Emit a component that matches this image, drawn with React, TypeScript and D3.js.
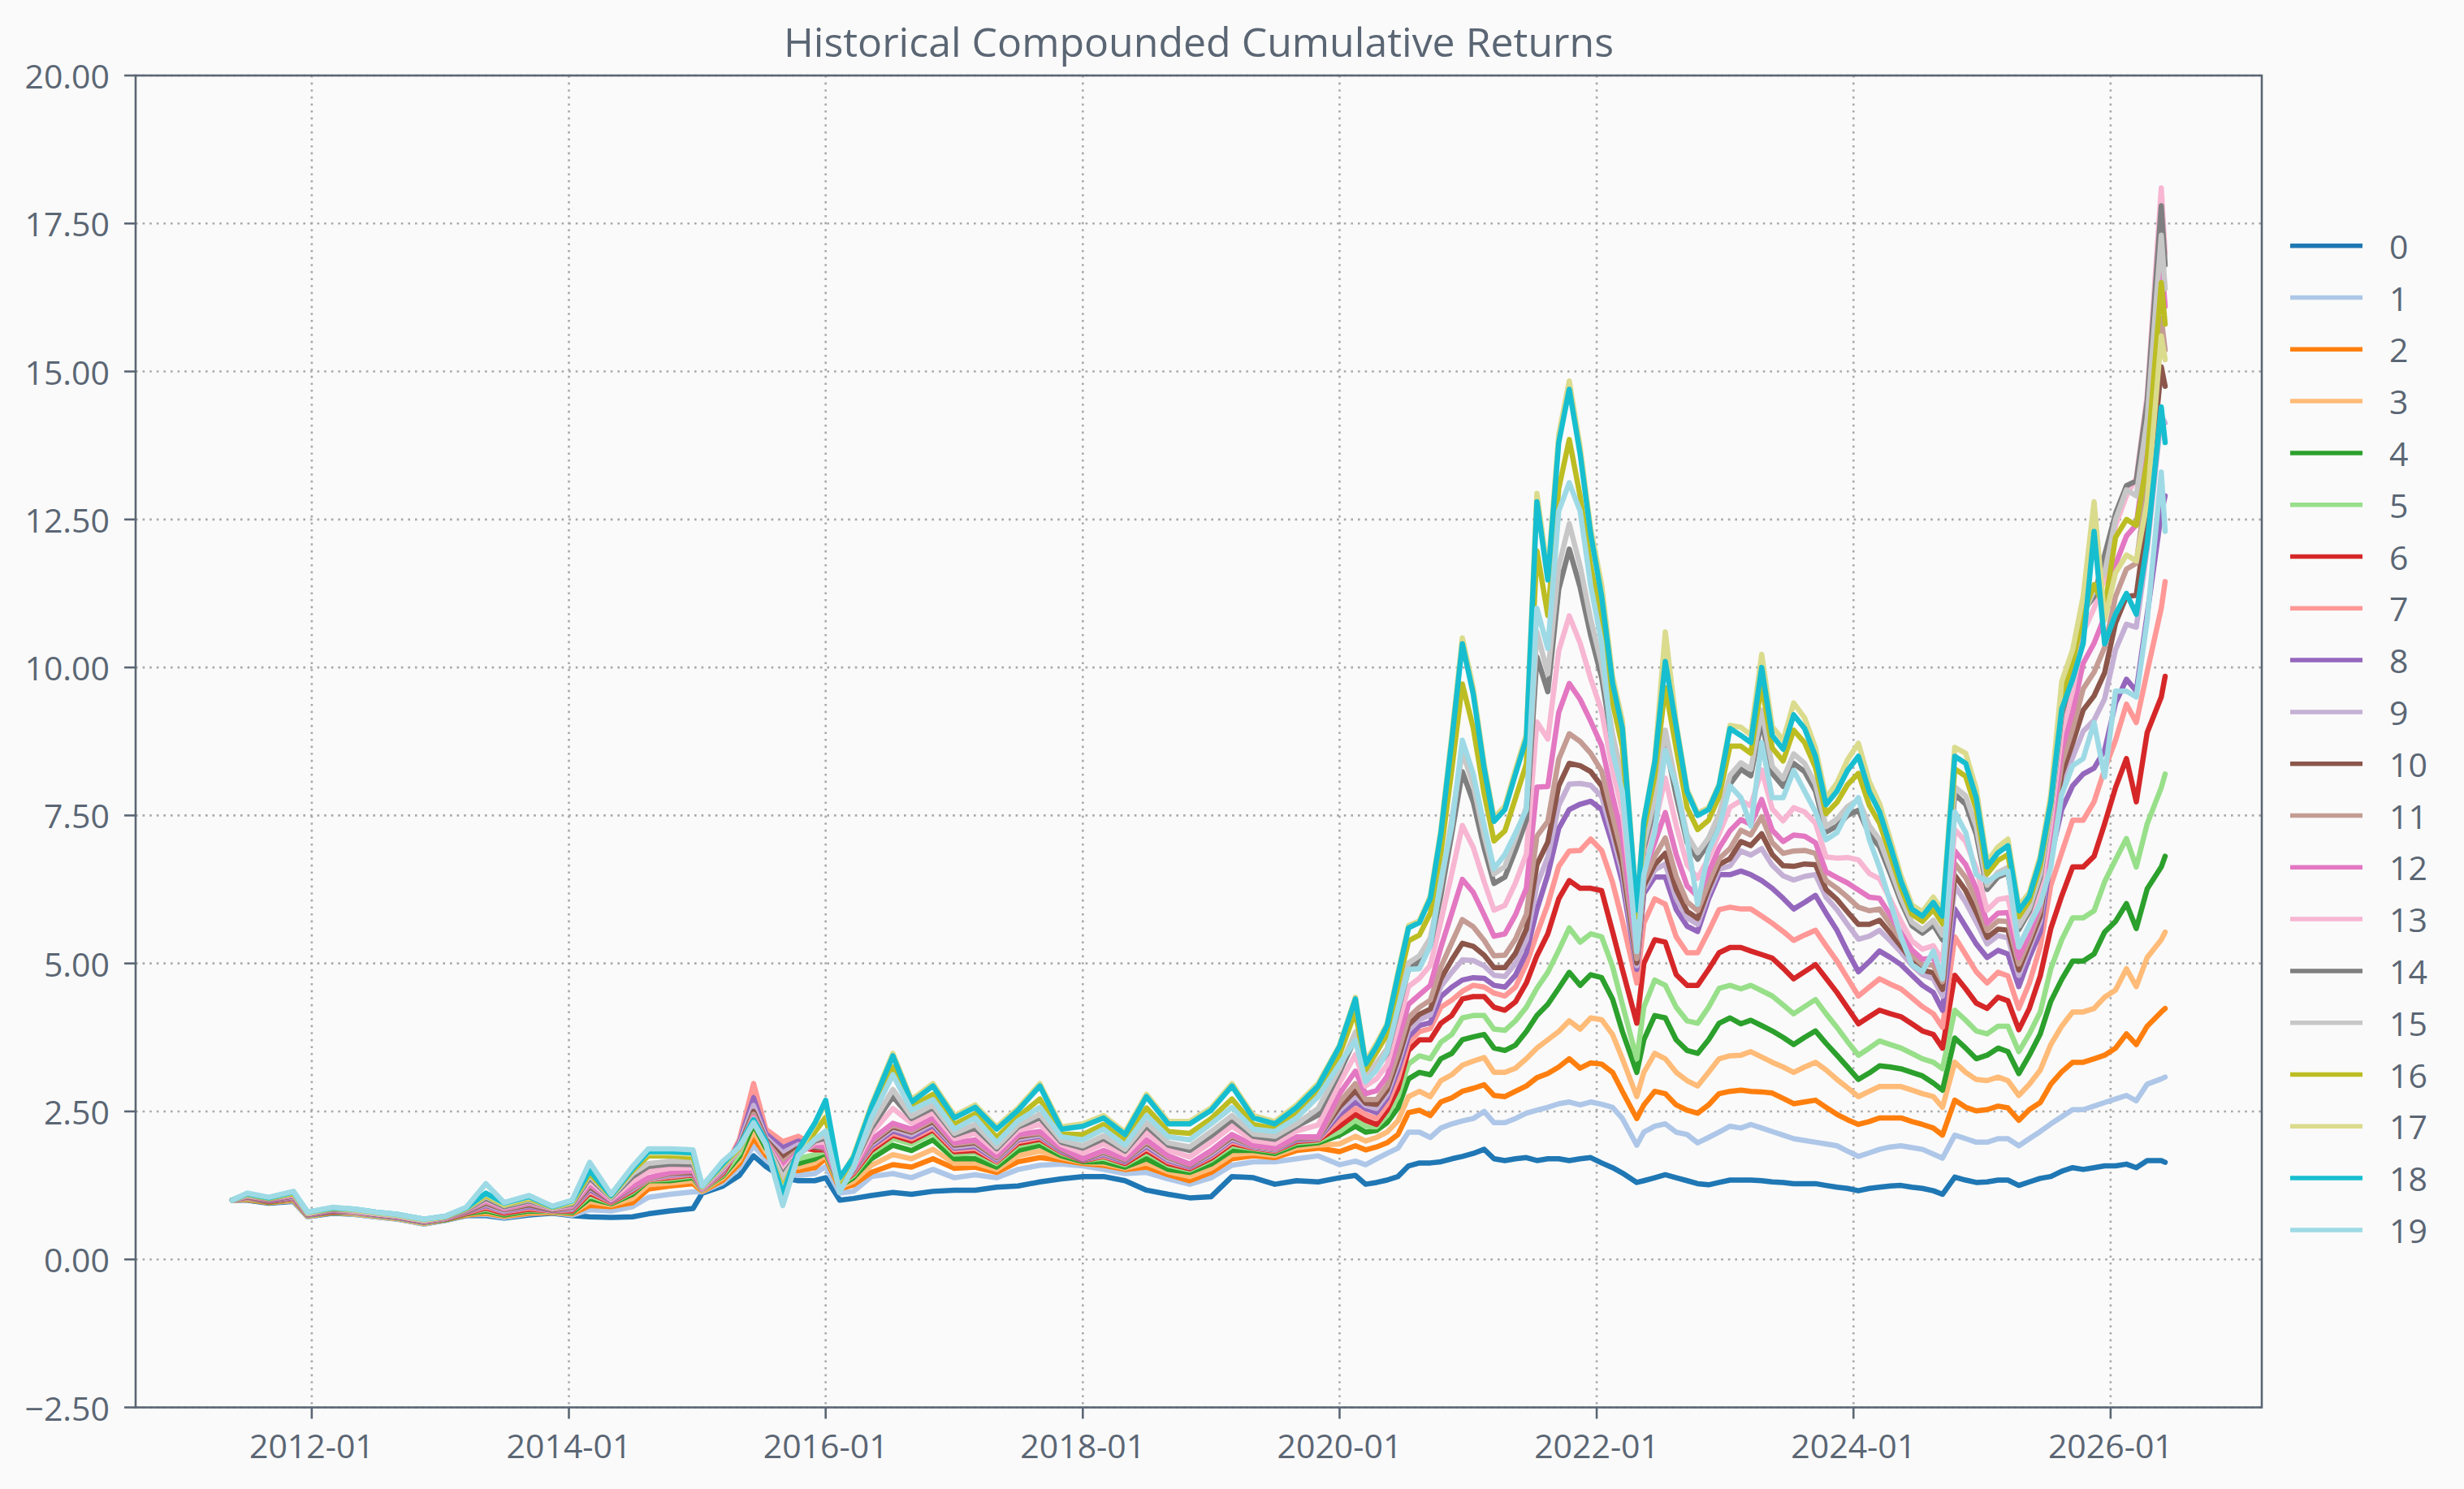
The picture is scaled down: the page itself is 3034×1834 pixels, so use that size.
import { useEffect } from "react";
import * as d3 from "d3";

// observation dates: bimonthly-ish before 2020, monthly after
const dates = [
  "2011-05-20", "2011-07-01", "2011-09-01", "2011-11-10", "2011-12-20", "2012-03-01", "2012-05-01", "2012-07-01", "2012-09-01", "2012-11-15",
  "2013-01-15", "2013-03-15", "2013-05-10", "2013-07-01", "2013-09-10", "2013-11-15", "2014-01-10",
  "2014-03-01", "2014-05-01", "2014-07-01", "2014-08-15", "2014-10-15", "2014-12-20", "2015-01-15", "2015-03-15", "2015-05-01",
  "2015-06-10", "2015-07-15", "2015-09-01", "2015-10-15", "2015-12-01", "2016-01-01", "2016-02-10", "2016-03-20",
  "2016-05-10", "2016-07-10", "2016-09-01", "2016-11-01", "2017-01-01", "2017-03-01", "2017-05-01", "2017-07-01", "2017-09-01", "2017-11-01",
  "2018-01-01", "2018-03-01", "2018-05-01", "2018-07-01", "2018-09-01", "2018-11-01", "2019-01-01", "2019-03-01", "2019-05-01", "2019-07-01",
  "2019-09-01", "2019-11-01",
  "2020-01-01", "2020-02-15", "2020-03-15", "2020-04-15", "2020-05-15", "2020-06-15", "2020-07-15", "2020-08-15", "2020-09-15", "2020-10-15", "2020-11-15", "2020-12-15",
  "2021-01-15", "2021-02-15", "2021-03-15", "2021-04-15", "2021-05-15", "2021-06-15", "2021-07-15", "2021-08-15", "2021-09-15", "2021-10-15", "2021-11-15", "2021-12-15",
  "2022-01-15", "2022-02-15", "2022-03-15", "2022-04-25", "2022-05-15", "2022-06-15", "2022-07-15", "2022-08-15", "2022-09-15", "2022-10-15", "2022-11-15", "2022-12-15",
  "2023-01-15", "2023-02-15", "2023-03-15", "2023-04-15", "2023-05-15", "2023-06-15", "2023-07-15", "2023-08-15", "2023-09-15", "2023-10-15", "2023-11-15", "2023-12-15",
  "2024-01-15", "2024-02-15", "2024-03-15", "2024-04-15", "2024-05-15", "2024-06-15", "2024-07-15", "2024-08-15", "2024-09-10", "2024-10-15", "2024-11-15", "2024-12-15",
  "2025-01-15", "2025-02-15", "2025-03-15", "2025-04-15", "2025-05-15", "2025-06-15", "2025-07-15", "2025-08-15", "2025-09-15", "2025-10-15", "2025-11-15", "2025-12-15",
  "2026-01-15", "2026-02-15", "2026-03-15", "2026-04-15", "2026-05-25", "2026-06-05",
];

const s0 = [
  1.0, 1.0, .95, .98, .72, .78, .76, .72, .68, .6, .66, .74, .74, .7, .75, .78, .74,
  .72, .71, .72, .77, .82, .86, 1.12, 1.24, 1.42, 1.75, 1.57, 1.38, 1.33, 1.33, 1.38, 1.0, 1.03,
  1.08, 1.13, 1.1, 1.15, 1.17, 1.17, 1.22, 1.24, 1.31, 1.36, 1.4, 1.4, 1.33, 1.17, 1.1, 1.04, 1.06, 1.4, 1.38, 1.27, 1.33, 1.31,
  1.38, 1.42, 1.27, 1.3, 1.34, 1.4, 1.58, 1.63, 1.63, 1.65, 1.7, 1.74,
  1.79, 1.86, 1.7, 1.67, 1.7, 1.72, 1.67, 1.7, 1.7, 1.67, 1.7, 1.72,
  1.63, 1.55, 1.46, 1.3, 1.33, 1.38, 1.43, 1.38, 1.33, 1.28, 1.26, 1.3,
  1.34, 1.34, 1.34, 1.33, 1.31, 1.3, 1.28, 1.28, 1.28, 1.25, 1.22, 1.2,
  1.16, 1.2, 1.22, 1.24, 1.25, 1.22, 1.2, 1.16, 1.1, 1.39, 1.34, 1.3,
  1.31, 1.34, 1.34, 1.25, 1.31, 1.37, 1.4, 1.49, 1.55, 1.52, 1.55, 1.58,
  1.58, 1.61, 1.55, 1.67, 1.67, 1.64,
];
const s1 = [
  1.0, 1.01, .96, .99, .72, .79, .76, .72, .68, .6, .66, .75, .76, .71, .77, .79, .75,
  .84, .82, .89, 1.05, 1.1, 1.14, 1.14, 1.3, 1.55, 1.92, 1.68, 1.46, 1.42, 1.45, 1.57, 1.12, 1.15,
  1.4, 1.45, 1.38, 1.52, 1.38, 1.43, 1.38, 1.52, 1.59, 1.61, 1.58, 1.52, 1.45, 1.47, 1.36, 1.27, 1.38, 1.59, 1.65, 1.65, 1.7, 1.75,
  1.6, 1.66, 1.6, 1.7, 1.79, 1.88, 2.15, 2.15, 2.06, 2.22, 2.29, 2.34,
  2.38, 2.5, 2.31, 2.31, 2.38, 2.47, 2.52, 2.57, 2.63, 2.66, 2.61, 2.66,
  2.62, 2.57, 2.38, 1.93, 2.15, 2.25, 2.29, 2.15, 2.11, 1.97, 2.06, 2.15,
  2.25, 2.22, 2.28, 2.22, 2.16, 2.1, 2.04, 2.01, 1.98, 1.95, 1.92, 1.83,
  1.74, 1.8, 1.86, 1.9, 1.92, 1.89, 1.86, 1.78, 1.71, 2.1, 2.04, 1.98,
  1.98, 2.04, 2.04, 1.92, 2.04, 2.16, 2.29, 2.41, 2.53, 2.53, 2.59, 2.65,
  2.71, 2.77, 2.68, 2.96, 3.05, 3.08,
];
const s2 = [
  1.0, 1.01, .96, 1.0, .73, .79, .77, .73, .69, .61, .67, .75, .78, .73, .78, .79, .77,
  .91, .89, .96, 1.19, 1.24, 1.28, 1.15, 1.34, 1.62, 2.05, 1.76, 1.52, 1.5, 1.55, 1.71, 1.19, 1.26,
  1.47, 1.6, 1.56, 1.7, 1.54, 1.56, 1.47, 1.65, 1.72, 1.68, 1.62, 1.59, 1.52, 1.56, 1.43, 1.33, 1.47, 1.7, 1.75, 1.72, 1.84, 1.88,
  1.82, 1.92, 1.85, 1.9, 1.97, 2.11, 2.48, 2.52, 2.43, 2.66, 2.73, 2.84,
  2.89, 2.95, 2.77, 2.75, 2.84, 2.93, 3.07, 3.14, 3.25, 3.39, 3.23, 3.32,
  3.3, 3.16, 2.84, 2.38, 2.61, 2.84, 2.8, 2.61, 2.52, 2.47, 2.61, 2.8,
  2.84, 2.86, 2.84, 2.83, 2.81, 2.72, 2.63, 2.66, 2.69, 2.57, 2.45, 2.36,
  2.28, 2.33, 2.39, 2.39, 2.39, 2.33, 2.28, 2.22, 2.1, 2.69, 2.57, 2.51,
  2.53, 2.59, 2.56, 2.35, 2.53, 2.65, 2.96, 3.17, 3.33, 3.33, 3.39, 3.45,
  3.57, 3.81, 3.63, 3.94, 4.18, 4.24,
];
const s3 = [
  1.0, 1.02, .97, 1.01, .73, .8, .77, .73, .69, .61, .67, .76, .8, .74, .8, .8, .78,
  .98, .92, 1.03, 1.26, 1.29, 1.33, 1.16, 1.38, 1.68, 2.17, 1.82, 1.57, 1.56, 1.63, 1.76, 1.22, 1.32,
  1.59, 1.77, 1.7, 1.86, 1.62, 1.63, 1.52, 1.75, 1.83, 1.72, 1.64, 1.62, 1.54, 1.63, 1.48, 1.4, 1.54, 1.77, 1.8, 1.76, 1.89, 1.93,
  1.95, 2.08, 2.0, 2.06, 2.15, 2.34, 2.75, 2.84, 2.75, 3.02, 3.12, 3.28,
  3.35, 3.41, 3.16, 3.16, 3.23, 3.39, 3.57, 3.71, 3.85, 4.03, 3.89, 4.08,
  4.05, 3.8, 3.39, 2.75, 3.16, 3.48, 3.39, 3.16, 3.02, 2.93, 3.16, 3.39,
  3.44, 3.45, 3.51, 3.42, 3.33, 3.25, 3.16, 3.25, 3.33, 3.2, 3.04, 2.9,
  2.75, 2.84, 2.92, 2.92, 2.92, 2.86, 2.8, 2.75, 2.57, 3.33, 3.16, 3.04,
  3.02, 3.08, 3.02, 2.77, 2.96, 3.2, 3.63, 3.94, 4.18, 4.18, 4.24, 4.43,
  4.55, 4.91, 4.61, 5.1, 5.4, 5.53,
];
const s4 = [
  1.0, 1.03, .97, 1.02, .74, .8, .78, .74, .7, .62, .67, .77, .82, .75, .82, .81, .79,
  1.03, .94, 1.1, 1.33, 1.33, 1.38, 1.17, 1.41, 1.74, 2.28, 1.88, 1.62, 1.62, 1.7, 1.8, 1.24, 1.38,
  1.7, 1.93, 1.84, 2.02, 1.7, 1.7, 1.56, 1.84, 1.93, 1.75, 1.65, 1.65, 1.56, 1.7, 1.52, 1.47, 1.61, 1.84, 1.84, 1.79, 1.93, 1.97,
  2.1, 2.25, 2.15, 2.18, 2.31, 2.56, 3.05, 3.16, 3.12, 3.39, 3.48, 3.71,
  3.76, 3.8, 3.57, 3.53, 3.62, 3.85, 4.12, 4.31, 4.58, 4.85, 4.63, 4.81,
  4.76, 4.4, 3.85, 3.16, 3.71, 4.12, 4.08, 3.71, 3.53, 3.48, 3.71, 3.99,
  4.08, 3.98, 4.04, 3.95, 3.86, 3.75, 3.63, 3.75, 3.86, 3.65, 3.45, 3.25,
  3.04, 3.15, 3.27, 3.25, 3.22, 3.16, 3.1, 2.98, 2.86, 3.74, 3.57, 3.39,
  3.45, 3.57, 3.51, 3.14, 3.45, 3.81, 4.36, 4.73, 5.04, 5.04, 5.16, 5.53,
  5.71, 6.01, 5.59, 6.26, 6.63, 6.81,
];
const s5 = [
  1.0, 1.03, .98, 1.02, .74, .81, .78, .74, .7, .62, .68, .78, .85, .77, .84, .81, .81,
  1.08, .95, 1.14, 1.34, 1.36, 1.41, 1.17, 1.43, 1.8, 2.4, 1.94, 1.68, 1.7, 1.77, 1.83, 1.25, 1.42,
  1.8, 2.04, 1.95, 2.13, 1.78, 1.8, 1.62, 1.92, 2.0, 1.79, 1.67, 1.71, 1.6, 1.8, 1.59, 1.51, 1.68, 1.92, 1.87, 1.82, 1.97, 2.0,
  2.16, 2.35, 2.25, 2.24, 2.43, 2.75, 3.3, 3.44, 3.39, 3.67, 3.8, 4.08,
  4.12, 4.12, 3.89, 3.87, 4.03, 4.26, 4.58, 4.85, 5.22, 5.6, 5.36, 5.5,
  5.45, 4.95, 4.31, 3.39, 4.26, 4.72, 4.63, 4.26, 4.03, 3.99, 4.26, 4.58,
  4.63, 4.57, 4.63, 4.54, 4.45, 4.3, 4.15, 4.27, 4.39, 4.15, 3.92, 3.68,
  3.45, 3.57, 3.69, 3.63, 3.57, 3.48, 3.39, 3.33, 3.22, 4.21, 4.04, 3.86,
  3.81, 3.94, 3.94, 3.51, 3.81, 4.18, 4.91, 5.4, 5.77, 5.77, 5.89, 6.38,
  6.75, 7.11, 6.63, 7.36, 7.97, 8.2,
];
const s6 = [
  1.0, 1.04, .98, 1.03, .75, .81, .79, .75, .71, .63, .68, .78, .87, .78, .85, .82, .82,
  1.12, .96, 1.16, 1.35, 1.38, 1.43, 1.18, 1.45, 1.92, 2.75, 2.08, 1.85, 1.9, 1.85, 1.85, 1.26, 1.45,
  1.84, 2.1, 2.0, 2.19, 1.82, 1.84, 1.65, 1.96, 2.03, 1.81, 1.67, 1.74, 1.62, 1.84, 1.62, 1.53, 1.71, 1.96, 1.88, 1.83, 1.99, 2.02,
  2.25, 2.45, 2.35, 2.28, 2.52, 2.89, 3.53, 3.71, 3.71, 3.99, 4.12, 4.4,
  4.44, 4.44, 4.26, 4.21, 4.35, 4.67, 5.13, 5.5, 6.09, 6.4, 6.27, 6.27,
  6.23, 5.54, 4.9, 3.99, 5.0, 5.4, 5.36, 4.81, 4.63, 4.63, 4.9, 5.18,
  5.27, 5.27, 5.21, 5.15, 5.09, 4.92, 4.74, 4.86, 4.98, 4.75, 4.51, 4.25,
  3.98, 4.1, 4.21, 4.15, 4.1, 3.98, 3.86, 3.8, 3.57, 4.8, 4.57, 4.33,
  4.24, 4.43, 4.37, 3.88, 4.24, 4.79, 5.59, 6.14, 6.63, 6.63, 6.81, 7.36,
  7.97, 8.46, 7.73, 8.9, 9.5, 9.85,
];
const s7 = [
  1.0, 1.04, .99, 1.04, .75, .82, .79, .75, .71, .63, .69, .79, .89, .8, .87, .82, .84,
  1.15, .97, 1.18, 1.35, 1.4, 1.44, 1.18, 1.47, 2.03, 2.97, 2.2, 1.99, 2.08, 1.92, 1.86, 1.27, 1.47,
  1.88, 2.13, 2.04, 2.22, 1.85, 1.88, 1.66, 1.99, 2.06, 1.82, 1.68, 1.75, 1.64, 1.88, 1.65, 1.55, 1.74, 1.99, 1.89, 1.84, 2.01, 2.03,
  2.35, 2.55, 2.45, 2.38, 2.62, 3.05, 3.66, 3.85, 3.9, 4.26, 4.38, 4.53,
  4.63, 4.6, 4.5, 4.45, 4.6, 4.99, 5.5, 6.0, 6.64, 6.9, 6.91, 7.1,
  6.91, 6.37, 5.72, 4.67, 5.68, 6.09, 6.0, 5.45, 5.18, 5.18, 5.54, 5.91,
  5.95, 5.92, 5.92, 5.8, 5.68, 5.54, 5.39, 5.48, 5.56, 5.3, 5.04, 4.75,
  4.45, 4.6, 4.74, 4.65, 4.57, 4.42, 4.27, 4.15, 3.92, 5.45, 5.15, 4.86,
  4.67, 4.85, 4.79, 4.24, 4.67, 5.28, 6.32, 6.87, 7.42, 7.42, 7.73, 8.28,
  8.77, 9.38, 9.07, 9.93, 11.0, 11.45,
];
const s8 = [
  1.0, 1.05, .99, 1.05, .75, .82, .8, .75, .71, .63, .69, .8, .91, .81, .89, .83, .85,
  1.18, .98, 1.19, 1.36, 1.42, 1.45, 1.19, 1.48, 1.98, 2.73, 2.12, 1.89, 2.0, 1.9, 1.87, 1.27, 1.49,
  1.91, 2.17, 2.07, 2.26, 1.88, 1.91, 1.68, 2.02, 2.08, 1.83, 1.68, 1.77, 1.65, 1.91, 1.67, 1.56, 1.76, 2.02, 1.9, 1.85, 2.02, 2.04,
  2.45, 2.66, 2.55, 2.48, 2.72, 3.2, 3.76, 3.95, 4.0, 4.44, 4.6, 4.72,
  4.76, 4.75, 4.63, 4.6, 4.8, 5.18, 5.91, 6.5, 7.28, 7.6, 7.69, 7.74,
  7.6, 7.01, 6.37, 4.9, 6.18, 6.46, 6.46, 5.91, 5.63, 5.54, 6.09, 6.5,
  6.5, 6.56, 6.5, 6.4, 6.27, 6.1, 5.92, 6.03, 6.15, 5.85, 5.56, 5.2,
  4.86, 5.03, 5.21, 5.1, 4.98, 4.8, 4.63, 4.51, 4.21, 5.92, 5.62, 5.33,
  5.1, 5.22, 5.16, 4.61, 5.1, 5.53, 6.8, 7.6, 8.0, 8.2, 8.3, 8.6,
  9.4, 9.8, 9.6, 10.9, 12.6, 12.9,
];
const s9 = [
  1.0, 1.06, 1.0, 1.06, .76, .83, .8, .76, .72, .64, .69, .81, .93, .82, .91, .84, .86,
  1.21, .99, 1.2, 1.36, 1.43, 1.46, 1.19, 1.49, 1.95, 2.6, 2.06, 1.8, 1.94, 1.9, 1.88, 1.27, 1.5,
  1.94, 2.21, 2.11, 2.3, 1.9, 1.94, 1.7, 2.04, 2.1, 1.85, 1.69, 1.79, 1.67, 1.94, 1.69, 1.58, 1.78, 2.04, 1.91, 1.86, 2.04, 2.05,
  2.52, 2.76, 2.6, 2.55, 2.79, 3.3, 3.87, 4.05, 4.13, 4.61, 4.85, 5.06,
  5.05, 4.96, 4.8, 4.78, 5.0, 5.4, 6.32, 6.8, 7.67, 8.03, 8.04, 8.01,
  7.82, 7.17, 6.53, 4.96, 6.25, 6.58, 6.68, 6.1, 5.77, 5.66, 6.18, 6.59,
  6.65, 6.9, 6.83, 6.94, 6.66, 6.48, 6.41, 6.47, 6.5, 6.12, 5.91, 5.66,
  5.41, 5.46, 5.56, 5.38, 5.19, 4.97, 4.81, 4.74, 4.45, 6.31, 6.03, 5.7,
  5.33, 5.47, 5.43, 4.8, 5.26, 5.71, 6.98, 7.99, 8.48, 8.92, 9.11, 9.47,
  10.3, 10.73, 10.68, 12.01, 14.25, 14.13,
];
const s10 = [
  1.0, 1.06, 1.0, 1.07, .76, .83, .81, .76, .72, .64, .7, .81, .95, .84, .92, .84, .88,
  1.23, .99, 1.22, 1.37, 1.45, 1.47, 1.2, 1.5, 1.9, 2.5, 2.02, 1.72, 1.88, 1.9, 1.88, 1.27, 1.51,
  1.97, 2.24, 2.15, 2.33, 1.93, 1.97, 1.72, 2.07, 2.13, 1.86, 1.69, 1.81, 1.68, 1.97, 1.72, 1.59, 1.81, 2.07, 1.92, 1.87, 2.05, 2.06,
  2.58, 2.85, 2.64, 2.62, 2.86, 3.38, 3.96, 4.14, 4.23, 4.74, 5.06, 5.34,
  5.29, 5.14, 4.93, 4.93, 5.17, 5.58, 6.67, 7.05, 8.0, 8.38, 8.34, 8.24,
  8.0, 7.31, 6.66, 5.01, 6.31, 6.67, 6.86, 6.25, 5.88, 5.76, 6.26, 6.67,
  6.77, 7.06, 6.99, 7.19, 6.84, 6.65, 6.64, 6.68, 6.67, 6.25, 6.08, 5.87,
  5.66, 5.66, 5.73, 5.51, 5.29, 5.05, 4.89, 4.84, 4.56, 6.49, 6.23, 5.87,
  5.44, 5.58, 5.56, 4.89, 5.33, 5.8, 7.07, 8.19, 8.72, 9.28, 9.52, 9.91,
  10.75, 11.2, 11.22, 12.57, 15.08, 14.75,
];
const s11 = [
  1.0, 1.07, 1.01, 1.08, .77, .84, .81, .77, .73, .65, .7, .82, .97, .85, .94, .85, .89,
  1.26, 1.0, 1.23, 1.37, 1.46, 1.49, 1.2, 1.51, 1.88, 2.45, 2.0, 1.64, 1.84, 1.92, 1.89, 1.27, 1.52,
  1.99, 2.27, 2.17, 2.36, 1.95, 1.99, 1.73, 2.09, 2.14, 1.87, 1.7, 1.82, 1.69, 1.99, 1.73, 1.6, 1.82, 2.09, 1.92, 1.87, 2.06, 2.06,
  2.66, 2.97, 2.7, 2.7, 2.94, 3.49, 4.09, 4.26, 4.38, 4.94, 5.35, 5.74,
  5.62, 5.39, 5.13, 5.14, 5.41, 5.83, 7.15, 7.4, 8.45, 8.88, 8.75, 8.55,
  8.25, 7.5, 6.84, 5.08, 6.4, 6.81, 7.12, 6.47, 6.04, 5.89, 6.36, 6.77,
  6.94, 7.25, 7.17, 7.48, 7.04, 6.86, 6.9, 6.91, 6.86, 6.4, 6.27, 6.12,
  5.95, 5.89, 5.92, 5.66, 5.4, 5.14, 4.98, 4.97, 4.69, 6.69, 6.45, 6.07,
  5.56, 5.72, 5.71, 4.99, 5.41, 5.9, 7.16, 8.38, 8.96, 9.64, 9.92, 10.34,
  11.2, 11.66, 11.76, 13.12, 15.9, 15.36,
];
const s12 = [
  1.0, 1.08, 1.01, 1.09, .77, .84, .82, .77, .73, .65, .7, .83, .99, .86, .96, .86, .9,
  1.28, 1.0, 1.24, 1.38, 1.47, 1.5, 1.2, 1.52, 1.86, 2.4, 1.98, 1.57, 1.8, 1.94, 1.89, 1.26, 1.53,
  2.02, 2.3, 2.2, 2.39, 1.97, 2.02, 1.75, 2.11, 2.16, 1.88, 1.7, 1.84, 1.7, 2.02, 1.75, 1.61, 1.84, 2.11, 1.93, 1.88, 2.07, 2.07,
  2.8, 3.18, 2.8, 2.85, 3.09, 3.69, 4.31, 4.47, 4.63, 5.27, 5.85, 6.42,
  6.2, 5.82, 5.46, 5.5, 5.82, 6.27, 7.98, 7.99, 9.24, 9.73, 9.46, 9.09,
  8.68, 7.83, 7.15, 5.2, 6.55, 7.04, 7.55, 6.84, 6.31, 6.13, 6.54, 6.95,
  7.24, 7.43, 7.35, 7.77, 7.25, 7.06, 7.17, 7.15, 7.04, 6.55, 6.45, 6.36,
  6.24, 6.12, 6.1, 5.81, 5.52, 5.23, 5.07, 5.09, 4.81, 6.9, 6.67, 6.27,
  5.68, 5.85, 5.86, 5.1, 5.5, 5.99, 7.27, 8.61, 9.25, 10.07, 10.41, 10.86,
  11.74, 12.22, 12.41, 13.79, 16.89, 16.1,
];
const s13 = [
  1.0, 1.08, 1.02, 1.1, .77, .85, .82, .77, .73, .65, .71, .84, 1.01, .88, .98, .86, .92,
  1.33, 1.02, 1.32, 1.48, 1.54, 1.55, 1.21, 1.54, 1.86, 2.38, 1.97, 1.5, 1.78, 1.97, 1.98, 1.25, 1.56,
  2.13, 2.55, 2.3, 2.48, 2.04, 2.13, 1.82, 2.18, 2.28, 1.94, 1.8, 1.95, 1.77, 2.14, 1.85, 1.73, 1.98, 2.25, 2.01, 1.96, 2.17, 2.27,
  2.98, 3.46, 2.93, 3.05, 3.29, 3.95, 4.61, 4.75, 4.97, 5.71, 6.52, 7.33,
  6.96, 6.38, 5.9, 5.98, 6.36, 6.85, 9.08, 8.79, 10.28, 10.87, 10.41, 9.81,
  9.26, 8.27, 7.57, 5.36, 6.74, 7.35, 8.13, 7.33, 6.67, 6.44, 6.78, 7.19,
  7.64, 7.75, 7.66, 8.27, 7.61, 7.41, 7.63, 7.56, 7.37, 6.8, 6.78, 6.79,
  6.75, 6.52, 6.43, 6.08, 5.71, 5.38, 5.24, 5.3, 5.04, 7.26, 7.06, 6.61,
  5.9, 6.08, 6.11, 5.28, 5.64, 6.16, 7.4, 8.9, 9.6, 10.6, 11.0, 11.5,
  12.4, 12.9, 13.2, 14.6, 18.1, 17.0,
];
const s14 = [
  1.0, 1.09, 1.02, 1.11, .78, .85, .83, .78, .74, .66, .71, .84, 1.03, .89, .99, .87, .93,
  1.38, 1.04, 1.4, 1.57, 1.61, 1.6, 1.22, 1.56, 1.87, 2.36, 1.96, 1.43, 1.77, 2.0, 2.05, 1.24, 1.59,
  2.22, 2.75, 2.38, 2.56, 2.1, 2.22, 1.87, 2.24, 2.39, 1.98, 1.88, 2.04, 1.83, 2.25, 1.93, 1.84, 2.09, 2.36, 2.08, 2.03, 2.25, 2.44,
  3.16, 3.74, 3.06, 3.24, 3.48, 4.2, 4.9, 5.03, 5.3, 6.15, 7.19, 8.24,
  7.73, 6.95, 6.35, 6.46, 6.91, 7.42, 10.18, 9.59, 11.32, 12.0, 11.35, 10.54,
  9.83, 8.7, 7.98, 5.52, 6.94, 7.66, 8.72, 7.83, 7.04, 6.76, 7.03, 7.43,
  8.03, 8.28, 8.17, 9.1, 8.21, 7.99, 8.38, 8.24, 7.91, 7.22, 7.32, 7.5,
  7.59, 7.18, 6.97, 6.51, 6.04, 5.64, 5.51, 5.65, 5.4, 7.86, 7.69, 7.18,
  6.25, 6.46, 6.53, 5.57, 5.88, 6.45, 7.6, 9.2, 9.9, 10.95, 11.2, 11.9,
  12.6, 13.07, 13.15, 14.5, 17.8, 16.8,
];
const s15 = [
  1.0, 1.09, 1.03, 1.11, .78, .86, .83, .78, .74, .66, .72, .85, 1.06, .91, 1.01, .87, .95,
  1.42, 1.05, 1.45, 1.62, 1.66, 1.65, 1.22, 1.57, 1.87, 2.35, 1.96, 1.38, 1.76, 2.02, 2.1, 1.23, 1.6,
  2.28, 2.87, 2.42, 2.61, 2.13, 2.28, 1.9, 2.27, 2.45, 2.01, 1.92, 2.09, 1.86, 2.31, 1.97, 1.9, 2.16, 2.43, 2.12, 2.08, 2.29, 2.55,
  3.23, 3.84, 3.11, 3.32, 3.56, 4.3, 5.01, 5.13, 5.43, 6.32, 7.44, 8.58,
  8.02, 7.16, 6.51, 6.64, 7.11, 7.64, 10.6, 9.89, 11.71, 12.43, 11.71, 10.81,
  10.05, 8.87, 8.14, 5.58, 7.01, 7.78, 8.94, 8.01, 7.17, 6.87, 7.12, 7.52,
  8.18, 8.39, 8.28, 9.28, 8.33, 8.12, 8.54, 8.38, 8.03, 7.31, 7.44, 7.65,
  7.77, 7.33, 7.09, 6.6, 6.11, 5.7, 5.57, 5.73, 5.48, 7.98, 7.83, 7.31,
  6.32, 6.54, 6.62, 5.63, 5.93, 6.51, 7.6, 9.3, 10.0, 10.9, 11.3, 11.6,
  12.5, 13.0, 12.9, 14.2, 17.3, 16.4,
];
const s16 = [
  1.0, 1.1, 1.03, 1.12, .79, .86, .84, .79, .75, .67, .72, .86, 1.08, .92, 1.03, .88, .96,
  1.45, 1.07, 1.5, 1.75, 1.75, 1.72, 1.23, 1.6, 1.88, 2.33, 1.95, 1.2, 1.78, 2.15, 2.4, 1.3, 1.64,
  2.46, 3.25, 2.58, 2.79, 2.28, 2.46, 2.06, 2.41, 2.71, 2.12, 2.11, 2.28, 2.0, 2.56, 2.16, 2.13, 2.38, 2.71, 2.28, 2.21, 2.46, 2.82,
  3.46, 4.19, 3.2, 3.5, 3.8, 4.63, 5.38, 5.48, 5.85, 6.87, 8.27, 9.72,
  8.98, 7.87, 7.07, 7.24, 7.79, 8.37, 11.97, 10.88, 13.02, 13.85, 12.89, 11.71,
  10.77, 9.41, 8.66, 5.78, 7.25, 8.17, 9.66, 8.63, 7.63, 7.26, 7.42, 7.82,
  8.67, 8.67, 8.55, 9.71, 8.64, 8.42, 8.94, 8.73, 8.31, 7.53, 7.72, 8.02,
  8.21, 7.67, 7.37, 6.83, 6.28, 5.83, 5.71, 5.91, 5.67, 8.29, 8.16, 7.6,
  6.51, 6.74, 6.84, 5.79, 6.06, 6.65, 7.7, 9.5, 10.1, 10.9, 11.4, 11.0,
  12.2, 12.5, 12.4, 13.5, 16.5, 15.8,
];
const s17 = [
  1.0, 1.11, 1.04, 1.13, .79, .87, .84, .79, .75, .67, .72, .87, 1.1, .93, 1.05, .89, .97,
  1.52, 1.1, 1.55, 1.8, 1.8, 1.78, 1.24, 1.62, 1.9, 2.34, 1.96, 1.15, 1.8, 2.28, 2.65, 1.36, 1.75,
  2.61, 3.48, 2.7, 2.97, 2.43, 2.61, 2.24, 2.56, 2.97, 2.24, 2.29, 2.43, 2.15, 2.79, 2.33, 2.33, 2.56, 2.97, 2.43, 2.33, 2.61, 2.97,
  3.62, 4.43, 3.35, 3.65, 3.98, 4.85, 5.64, 5.72, 6.14, 7.26, 8.85, 10.5,
  9.65, 8.37, 7.46, 7.66, 8.27, 8.87, 12.94, 11.58, 13.93, 14.84, 13.72, 12.34,
  11.4, 9.85, 9.1, 5.92, 7.42, 8.44, 10.6, 9.06, 7.94, 7.54, 7.63, 8.03,
  9.02, 8.99, 8.86, 10.22, 9.0, 8.77, 9.4, 9.15, 8.64, 7.79, 8.05, 8.44,
  8.72, 8.07, 7.7, 7.09, 6.48, 5.99, 5.87, 6.12, 5.89, 8.65, 8.55, 7.95,
  6.72, 6.97, 7.1, 5.97, 6.2, 6.82, 7.85, 9.76, 10.3, 11.2, 12.8, 10.8,
  11.6, 11.9, 11.8, 12.8, 15.6, 15.2,
];
const s18 = [
  1.0, 1.11, 1.04, 1.14, .8, .87, .85, .8, .76, .68, .73, .87, 1.12, .95, 1.06, .89, .99,
  1.5, 1.08, 1.53, 1.82, 1.82, 1.8, 1.24, 1.62, 1.92, 2.36, 2.0, 1.1, 1.85, 2.3, 2.69, 1.38, 1.72,
  2.57, 3.44, 2.66, 2.93, 2.39, 2.57, 2.2, 2.52, 2.93, 2.2, 2.25, 2.39, 2.11, 2.75, 2.29, 2.29, 2.52, 2.93, 2.39, 2.29, 2.57, 2.93,
  3.6, 4.4, 3.3, 3.6, 3.95, 4.8, 5.6, 5.69, 6.1, 7.2, 8.77, 10.4,
  9.55, 8.3, 7.4, 7.6, 8.2, 8.8, 12.8, 11.48, 13.8, 14.7, 13.6, 12.25,
  11.2, 9.74, 8.97, 5.9, 7.4, 8.4, 10.1, 9.0, 7.9, 7.5, 7.6, 8.0,
  8.97, 8.85, 8.73, 10.0, 8.85, 8.62, 9.2, 8.97, 8.5, 7.68, 7.91, 8.26,
  8.5, 7.9, 7.56, 6.98, 6.39, 5.92, 5.8, 6.03, 5.8, 8.5, 8.38, 7.8,
  6.63, 6.87, 6.99, 5.89, 6.14, 6.75, 7.73, 9.3, 9.8, 10.4, 12.3, 10.4,
  10.9, 11.25, 10.9, 12.1, 14.4, 13.8,
];
const s19 = [
  1.0, 1.12, 1.05, 1.15, .8, .88, .85, .8, .76, .68, .73, .88, 1.28, .96, 1.08, .9, 1.0,
  1.64, 1.1, 1.57, 1.87, 1.87, 1.85, 1.24, 1.66, 1.9, 2.31, 1.94, .91, 1.75, 2.03, 2.17, 1.14, 1.55,
  2.39, 3.12, 2.52, 2.7, 2.2, 2.39, 1.97, 2.34, 2.57, 2.07, 2.02, 2.2, 1.93, 2.43, 2.07, 2.02, 2.29, 2.57, 2.2, 2.16, 2.39, 2.75,
  3.3, 3.7, 3.0, 3.2, 3.5, 4.24, 4.9, 4.91, 5.3, 6.4, 7.33, 8.77,
  8.2, 7.33, 6.6, 6.84, 7.2, 7.6, 11.0, 10.32, 12.64, 13.12, 12.64, 11.38,
  10.42, 8.58, 7.9, 5.2, 6.5, 7.23, 8.6, 8.0, 7.1, 6.0, 6.9, 7.3,
  8.0, 7.8, 7.32, 8.73, 7.8, 7.8, 8.26, 7.91, 7.56, 7.09, 7.21, 7.56,
  7.8, 7.09, 6.62, 6.03, 5.45, 4.98, 4.86, 5.21, 4.74, 7.56, 7.21, 6.5,
  6.38, 6.5, 6.56, 5.28, 5.65, 6.01, 6.63, 7.85, 8.34, 8.46, 9.07, 8.15,
  9.6, 9.6, 9.5, 10.8, 13.3, 12.3,
];

const series = [s0, s1, s2, s3, s4, s5, s6, s7, s8, s9, s10, s11, s12, s13, s14, s15, s16, s17, s18, s19];
const seriesNames = series.map((_, i) => String(i));
// matplotlib tab20
const palette = [
  "#1f77b4", "#aec7e8", "#ff7f0e", "#ffbb78", "#2ca02c", "#98df8a", "#d62728", "#ff9896", "#9467bd", "#c5b0d5",
  "#8c564b", "#c49c94", "#e377c2", "#f7b6d2", "#7f7f7f", "#c7c7c7", "#bcbd22", "#dbdb8d", "#17becf", "#9edae5",
];
const yTicks = [-2.5, 0, 2.5, 5, 7.5, 10, 12.5, 15, 17.5, 20];
const title = "Historical Compounded Cumulative Returns";

const W = 3034;
const H = 1834;
const BG = "#fafafa";
const INK = "#5b6674";
const FONT = "'Open Sans', 'Noto Sans', sans-serif";

export default function App() {
  useEffect(() => {
    document.body.style.margin = "0";
    document.body.style.background = BG;
  }, []);

  const left = 167, right = 2785, top = 93, bottom = 1733.5;

  const parse = d3.timeParse("%Y-%m-%d");
  const xs = dates.map((d) => parse(d) as Date);
  const [d0, d1] = d3.extent(xs) as [Date, Date];
  const pad = (+d1 - +d0) * 0.05;
  const x = d3.scaleTime().domain([new Date(+d0 - pad), new Date(+d1 + pad)]).range([left, right]);
  const y = d3.scaleLinear().domain([-2.5, 20]).range([bottom, top]);
  const xTicks = d3.timeYear.every(2)!.range(new Date(2012, 0, 1), new Date(2027, 0, 1));
  const fmtX = d3.timeFormat("%Y-%m");
  const fmtY = d3.format(".2f");

  const line = d3
    .line<number>()
    .defined((v) => v != null)
    .x((_, i) => x(xs[i]))
    .y((v) => y(v));

  const legendTop = 302.7;
  const legendStep = 63.8;

  return (
    <svg width={W} height={H} style={{ display: "block", background: BG }} fontFamily={FONT}>
      <rect width={W} height={H} fill={BG} />

      {/* grid */}
      <g stroke="#a9a9a9" strokeWidth={2.6} strokeDasharray="2.6 6">
        {xTicks.map((t) => (
          <line key={"gx" + t.getFullYear()} x1={x(t)} x2={x(t)} y1={top} y2={bottom} />
        ))}
        {yTicks.map((t) => (
          <line key={"gy" + t} x1={left} x2={right} y1={y(t)} y2={y(t)} />
        ))}
      </g>

      {/* series */}
      <g fill="none" strokeWidth={6.5} strokeLinejoin="round" strokeLinecap="round">
        {series.map((s, i) => (
          <path key={"s" + i} d={line(s) ?? ""} stroke={palette[i]} />
        ))}
      </g>

      {/* spines */}
      <rect x={left} y={top} width={right - left} height={bottom - top} fill="none" stroke={INK} strokeWidth={2.6} />

      {/* y axis */}
      <g fill={INK} fontSize={41}>
        {yTicks.map((t) => (
          <g key={"yt" + t}>
            <line x1={left - 14} x2={left} y1={y(t)} y2={y(t)} stroke={INK} strokeWidth={2.6} />
            <text x={135} y={y(t)} textAnchor="end" dominantBaseline="central">
              {fmtY(t)}
            </text>
          </g>
        ))}
      </g>

      {/* x axis */}
      <g fill={INK} fontSize={41}>
        {xTicks.map((t) => (
          <g key={"xt" + t.getFullYear()}>
            <line x1={x(t)} x2={x(t)} y1={bottom} y2={bottom + 14} stroke={INK} strokeWidth={2.6} />
            <text x={x(t)} y={1796} textAnchor="middle">
              {fmtX(t)}
            </text>
          </g>
        ))}
      </g>

      {/* title */}
      <text x={(left + right) / 2} y={70} textAnchor="middle" fill={INK} fontSize={50}>
        {title}
      </text>

      {/* legend */}
      <g fontSize={41} fill={INK}>
        {seriesNames.map((name, i) => {
          const ly = legendTop + i * legendStep;
          return (
            <g key={"lg" + i}>
              <line x1={2820} x2={2909} y1={ly} y2={ly} stroke={palette[i]} strokeWidth={5.5} />
              <text x={2942} y={ly} dominantBaseline="central">
                {name}
              </text>
            </g>
          );
        })}
      </g>
    </svg>
  );
}
